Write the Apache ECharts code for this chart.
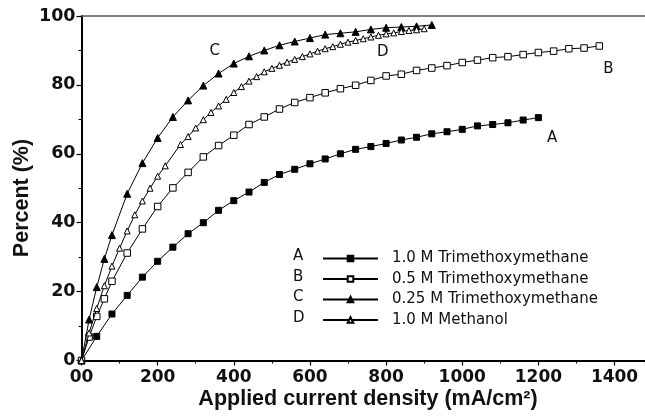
<!DOCTYPE html>
<html>
<head>
<meta charset="utf-8">
<script src="https://cdn.jsdelivr.net/npm/echarts@6/dist/echarts.min.js"></script>
<style>
html,body{margin:0;padding:0;background:#fff;}
#chart{width:645px;height:418px;}
</style>
</head>
<body>
<div id="chart"></div>
<script>
// ---- data ----
const seriesNames = ['1.0 M Trimethoxymethane', '0.5 M Trimethoxymethane', '0.25 M Trimethoxymethane', '1.0 M Methanol'];
const seriesLetters = ['A', 'B', 'C', 'D'];

const aX = [0,40,80,120,160,200,240,280,320,360,400,440,480,520,560,600,640,680,720,760,800,840,880,920,960,1000,1040,1080,1120,1160,1200];
const aY = [0,7.0,13.5,18.9,24.2,28.8,32.9,36.8,40.0,43.6,46.4,48.9,51.7,54.0,55.5,57.1,58.5,60.0,61.3,62.1,63.0,64.0,64.8,65.8,66.4,67.1,68.1,68.5,69.0,69.8,70.5];

const bX = [0,20,40,60,80,120,160,200,240,280,320,360,400,440,480,520,560,600,640,680,720,760,800,840,880,920,960,1000,1040,1080,1120,1160,1200,1240,1280,1320,1360];
const bY = [0,6.8,12.8,17.9,23.0,31.2,38.2,44.7,50.1,54.6,59.1,62.4,65.4,68.5,70.7,73.0,74.9,76.3,77.7,78.9,79.9,81.3,82.6,83.1,84.2,84.9,85.6,86.5,87.2,87.9,88.2,88.8,89.4,89.8,90.5,90.7,91.3];

const cX = [0,20,40,60,80,120,160,200,240,280,320,360,400,440,480,520,560,600,640,680,720,760,800,840,880,920];
const cY = [0,11.9,21.3,29.5,36.4,48.4,57.3,64.6,70.7,75.5,79.8,83.3,86.2,88.3,90.0,91.5,92.6,93.6,94.6,95.0,95.4,96.1,96.6,96.8,97.0,97.4];

const dX = [0,20,40,60,80,100,120,140,160,180,200,220,260,280,300,320,340,360,380,400,420,440,460,480,500,520,540,560,580,600,620,640,660,680,700,720,740,760,780,800,820,840,860,880,900];
const dY = [0,8.0,15.1,21.7,27.4,32.6,37.6,42.3,46.3,50.0,53.5,56.5,62.7,65.0,67.5,69.9,72.0,73.9,75.8,77.8,79.5,81.1,82.4,83.8,84.8,85.7,86.6,87.4,88.2,89.0,89.8,90.5,91.1,91.8,92.4,92.9,93.4,93.9,94.4,94.8,95.1,95.5,95.8,96.0,96.3];

// curve letter annotations, in data units
const curveLabelAt = {A: [1236, 64.5], B: [1384, 84.6], C: [350, 89.9], D: [791, 89.5]};

const xTicks = [0,200,400,600,800,1000,1200,1400];
const yTicks = [0,20,40,60,80,100];
const xTitle = 'Applied current density (mA/cm²)';
const yTitle = 'Percent (%)';

// ---- chart ----
const zip = (xs, ys) => xs.map((x, i) => [x, ys[i]]);
const tickFont = 'DejaVu Sans';
const letterFont = 'DejaVu Sans';

const styles = [
  {symbol: 'rect', size: 6, fill: '#000'},
  {symbol: 'rect', size: 6.5, fill: '#fff'},
  {symbol: 'triangle', size: 7, fill: '#000'},
  {symbol: 'triangle', size: 6, fill: '#fff'}
];
const datasets = [zip(aX, aY), zip(bX, bY), zip(cX, cY), zip(dX, dY)];

const series = datasets.map((d, i) => ({
  name: seriesNames[i],
  type: 'line',
  data: d,
  symbol: styles[i].symbol,
  symbolSize: styles[i].size,
  showAllSymbol: true,
  lineStyle: {color: '#000', width: 1},
  itemStyle: {color: styles[i].fill, borderColor: '#000', borderWidth: 1},
  emphasis: {disabled: true},
  markPoint: {
    symbol: 'circle',
    symbolSize: 0,
    silent: true,
    label: {show: true, position: 'inside', formatter: seriesLetters[i], color: '#111', fontSize: 15, fontFamily: letterFont},
    data: [{coord: curveLabelAt[seriesLetters[i]]}]
  },
  z: 3 + i
}));

const chart = echarts.init(document.getElementById('chart'), null, {renderer: 'canvas'});
chart.setOption({
  animation: false,
  backgroundColor: '#fff',
  grid: {left: 81.5, right: 0, top: 16, bottom: 57.5, containLabel: false},
  xAxis: [{
    type: 'value', min: xTicks[0], max: 1480, interval: 200,
    axisLine: {onZero: false, lineStyle: {color: '#000', width: 2}},
    axisTick: {length: 5, lineStyle: {color: '#000', width: 1.2}},
    minorTick: {show: true, splitNumber: 2, length: 3, lineStyle: {color: '#000', width: 1}},
    splitLine: {show: false},
    axisLabel: {
      showMaxLabel: false, margin: 9, fontSize: 17, fontWeight: 'bold', fontFamily: tickFont, color: '#111',
      formatter: v => (xTicks.indexOf(v) < 0 ? '' : (v === 0 ? '00' : String(v)))
    }
  }, {
    type: 'value', position: 'top', min: xTicks[0], max: 1480,
    axisLine: {show: true, onZero: false, lineStyle: {color: '#555', width: 1.5}},
    axisTick: {show: false}, axisLabel: {show: false}, splitLine: {show: false}
  }],
  yAxis: {
    type: 'value', min: yTicks[0], max: yTicks[yTicks.length - 1], interval: 20,
    axisLine: {show: true, onZero: false, lineStyle: {color: '#000', width: 2}},
    axisTick: {show: true, length: 5, lineStyle: {color: '#000', width: 1.2}},
    minorTick: {show: true, splitNumber: 2, length: 3, lineStyle: {color: '#000', width: 1}},
    splitLine: {show: false},
    axisLabel: {margin: 6, fontSize: 17.5, fontWeight: 'bold', fontFamily: tickFont, color: '#111'}
  },
  legend: {
    orient: 'vertical', left: 317, top: 246,
    itemWidth: 55, itemHeight: 7, itemGap: 5.5,
    data: seriesNames,
    selectedMode: false,
    textStyle: {fontFamily: letterFont, fontSize: 15, color: '#111', padding: [0, 0, 0, 9]}
  },
  graphic: [
    {type: 'text', left: 293, top: 246, style: {text: seriesLetters.join('\n'), font: '15px "DejaVu Sans"', fill: '#111', lineHeight: 20.5}},
    {type: 'text', x: 22, y: 198, rotation: Math.PI / 2,
     style: {text: yTitle, font: 'bold 21.5px "Liberation Sans"', fill: '#111', align: 'center', verticalAlign: 'middle'}},
    {type: 'text', x: 368, y: 399,
     style: {text: xTitle, font: 'bold 21.5px "Liberation Sans"', fill: '#111', align: 'center', verticalAlign: 'middle'}}
  ],
  series: series
});
</script>
</body>
</html>
